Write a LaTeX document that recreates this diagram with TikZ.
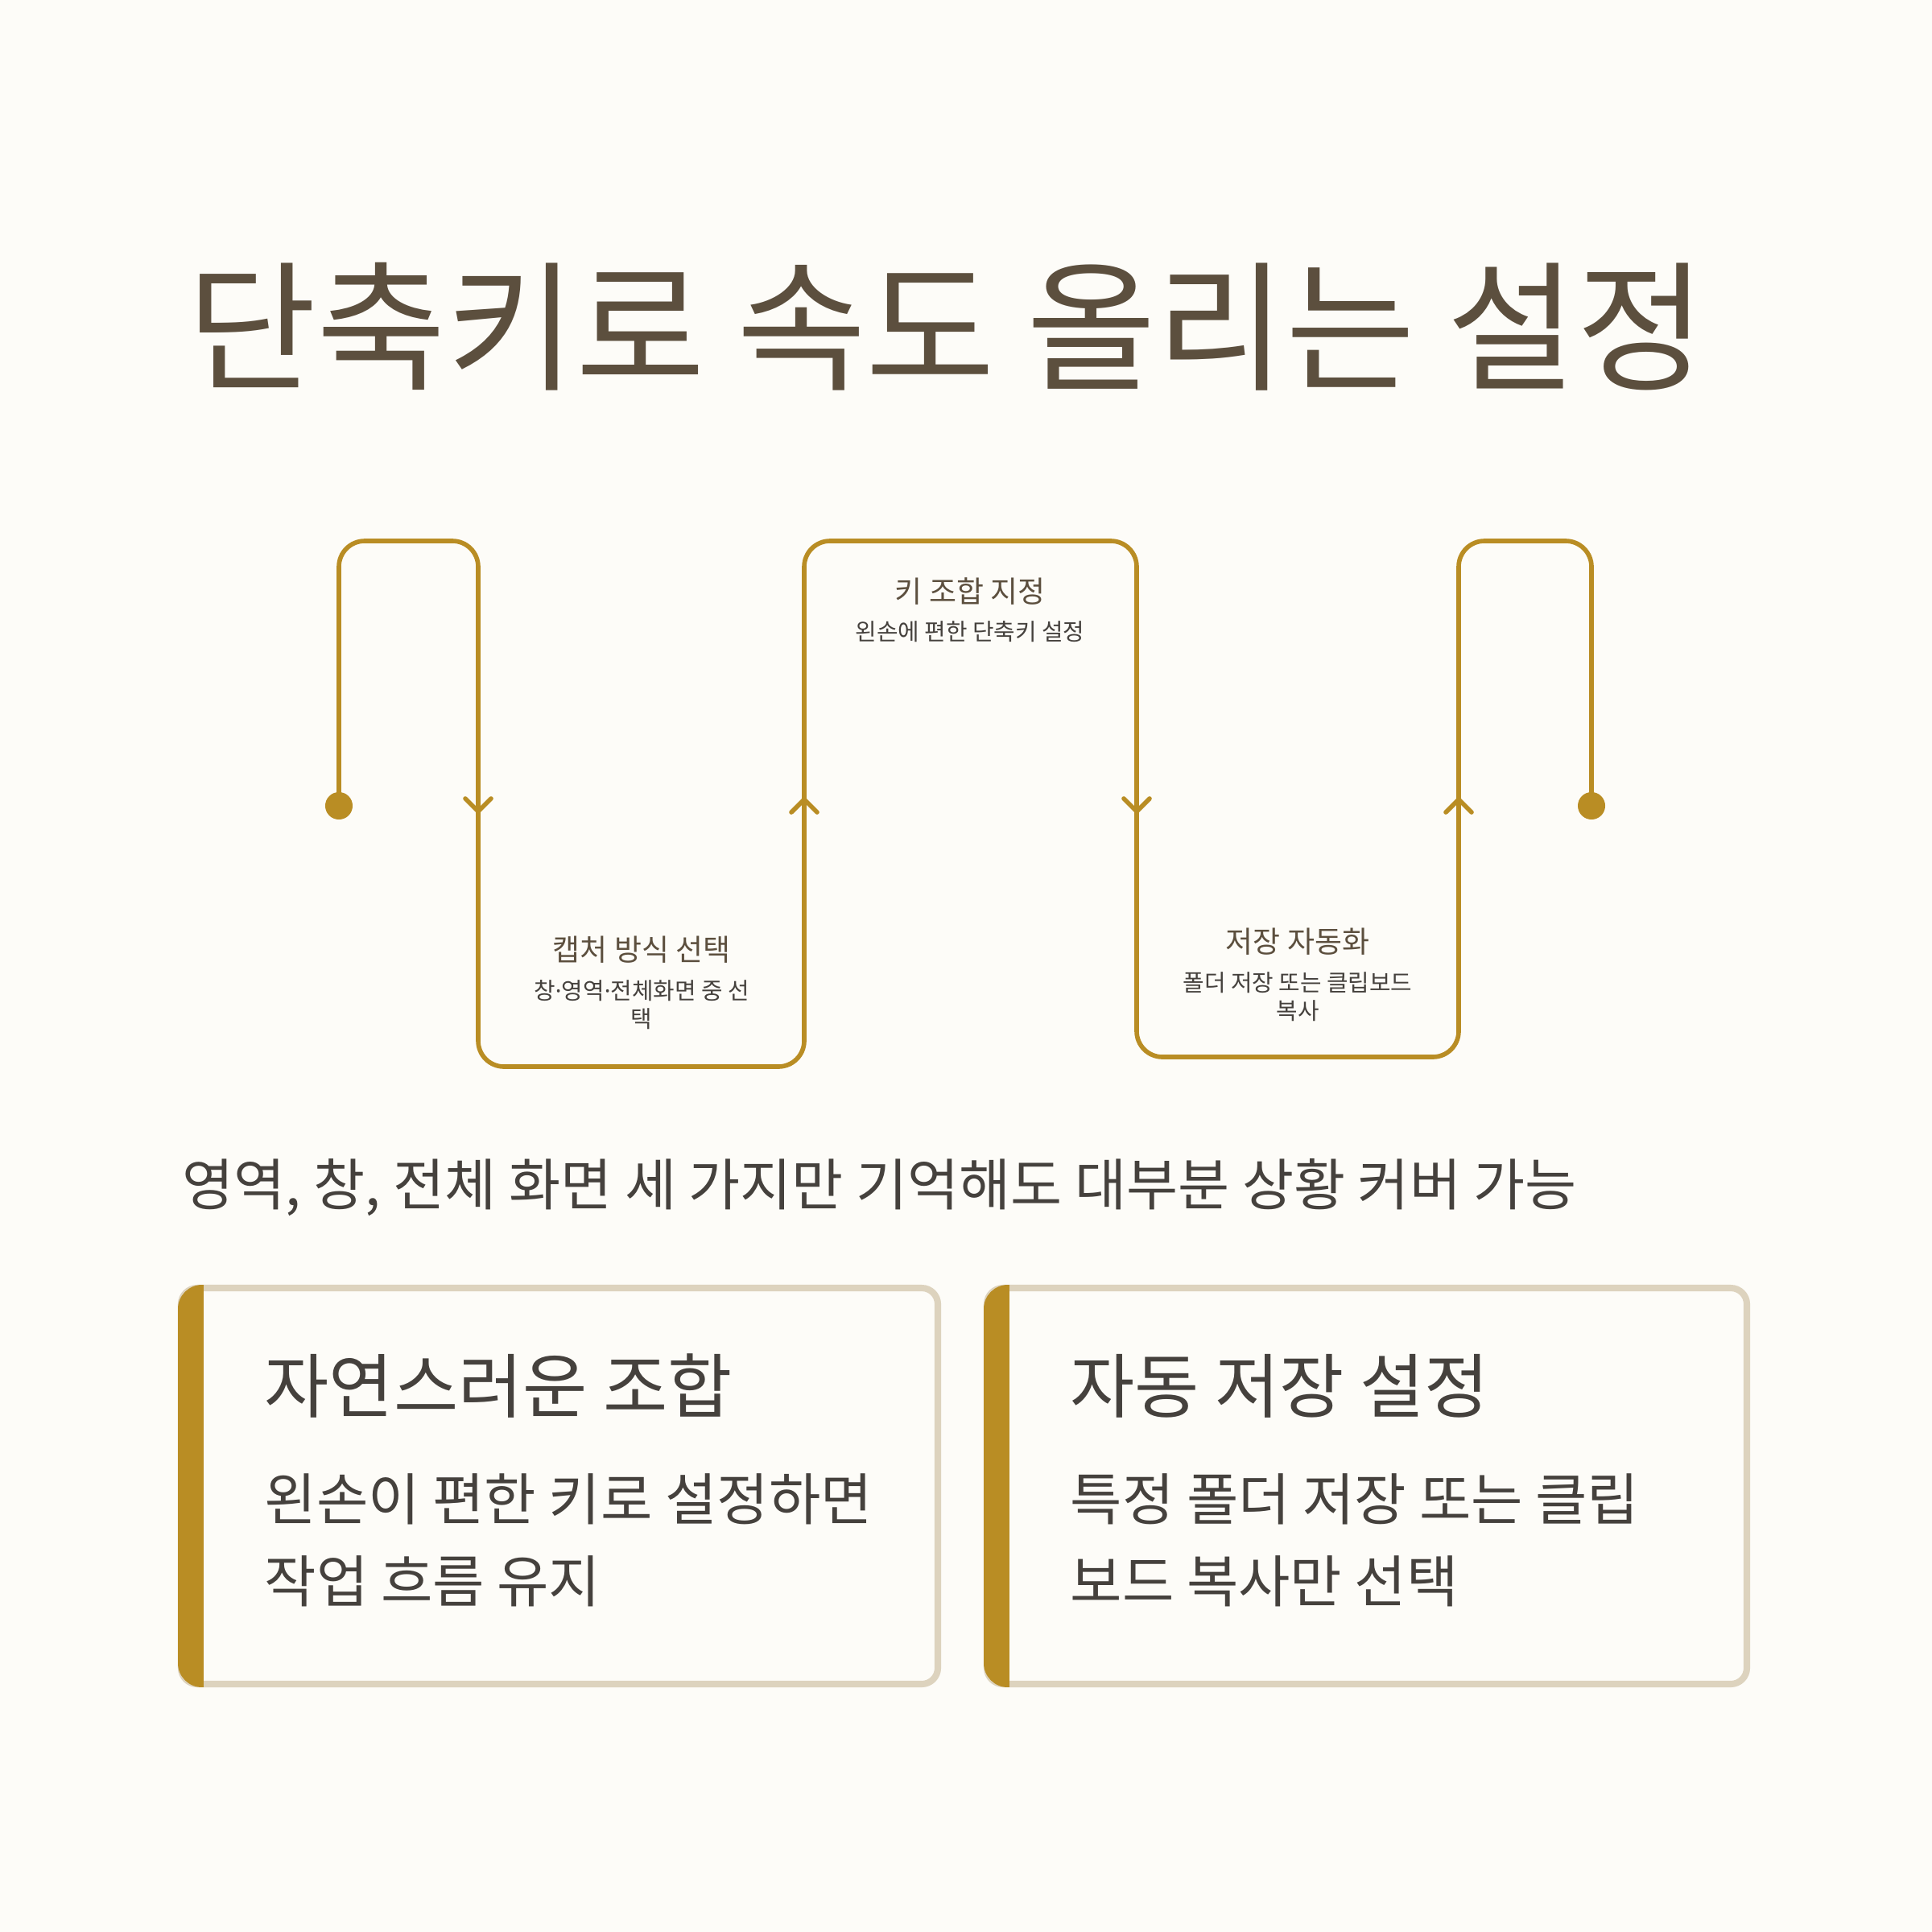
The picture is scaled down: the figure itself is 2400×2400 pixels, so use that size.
\documentclass[tikz,border=0pt]{standalone}
\usepackage{fontspec}
\setmainfont{Noto Sans CJK KR}
\newfontfamily\latinfont{Noto Sans}
\newcommand{\middot}{{\latinfont ·}}
\usetikzlibrary{arrows.meta}

\begin{document}
\begin{tikzpicture}[x=0.01cm,y=-0.01cm]

% colors
\definecolor{cBg}{HTML}{FDFCF8}
\definecolor{cGold}{HTML}{B98D24}
\definecolor{cBrown}{HTML}{5C4F3E}
\definecolor{cInk}{HTML}{45413D}
\definecolor{cEdge}{HTML}{DDD3BE}

\tikzset{
  flow/.style={cGold, line width=1.6pt, rounded corners=0.32cm},
  chev/.style={cGold, line width=1.6pt, line cap=round, line join=round},
  steptitle/.style={text=cBrown, font=\fontsize{10.5}{12}\selectfont, inner sep=0pt},
  stepnote/.style={text=cInk, font=\fontsize{8.2}{10}\selectfont, align=center, inner sep=0pt},
  cardbox/.style={cEdge, line width=2.3pt, rounded corners=0.2cm},
  cardhead/.style={anchor=west, text=cInk, font=\fontsize{24.8}{30}\selectfont, inner sep=0pt},
  cardtext/.style={anchor=west, text=cInk, font=\fontsize{19.9}{29}\selectfont, align=left, inner sep=0pt},
}

% canvas
\fill[cBg] (0,0) rectangle (2400,2400);
\useasboundingbox (0,0) rectangle (2400,2400);

% title
\node[anchor=west, inner sep=0pt, text=cBrown, font=\fontsize{49.7}{60}\selectfont]
  (title) at (232,406) {단축키로 속도 올리는 설정};

% the winding flow line
\coordinate (start) at (421,1001);
\coordinate (finish) at (1977,1001);
\draw[flow] (start) -- (421,672) -- (594,672) -- (594,1325) -- (999,1325)
  -- (999,672) -- (1412,672) -- (1412,1313) -- (1812,1313) -- (1812,672)
  -- (1977,672) -- (finish);
\fill[cGold] (start) circle[radius=0.17cm];
\fill[cGold] (finish) circle[radius=0.17cm];

% direction marks
\foreach \px/\tip/\arm in {594/1008/992, 999/993/1009, 1412/1008/992, 1812/993/1009}
  \draw[chev] ({\px-16},\arm) -- (\px,\tip) -- ({\px+16},\arm);

% step labels
\node[steptitle] (capT) at (797,1180) {캡처 방식 선택};
\node[stepnote] (capN) at (797,1248) {창\middot 영역\middot 전체화면 중 선\\택};
\node[steptitle] (keyT) at (1205,735) {키 조합 지정};
\node[stepnote] (keyN) at (1205,785) {왼손에 편한 단축키 설정};
\node[steptitle] (saveT) at (1612,1170) {저장 자동화};
\node[stepnote] (saveN) at (1612,1238) {폴더 저장 또는 클립보드\\복사};

% summary line
\node[anchor=west, inner sep=0pt, text=cInk, font=\fontsize{19.8}{24}\selectfont]
  (hint) at (226,1475) {영역, 창, 전체 화면 세 가지만 기억해도 대부분 상황 커버 가능};

% cards
\draw[cardbox] (225,1600) rectangle (1165,2092);
\begin{scope}
  \clip[rounded corners=0.3cm] (221,1596) rectangle (300,2096);
  \fill[cGold] (221,1596) rectangle (253,2096);
\end{scope}
\draw[cardbox] (1226,1600) rectangle (2170,2092);
\begin{scope}
  \clip[rounded corners=0.3cm] (1222,1596) rectangle (1300,2096);
  \fill[cGold] (1222,1596) rectangle (1254,2096);
\end{scope}

\node[cardhead] (natHead) at (328,1722) {자연스러운 조합};
\node[cardtext] (natText) at (328,1913) {왼손이 편한 키로 설정하면\\작업 흐름 유지};
\node[cardhead] (autoHead) at (1329,1722) {자동 저장 설정};
\node[cardtext] (autoText) at (1329,1913) {특정 폴더 저장 또는 클립\\보드 복사만 선택};

\end{tikzpicture}
\end{document}
